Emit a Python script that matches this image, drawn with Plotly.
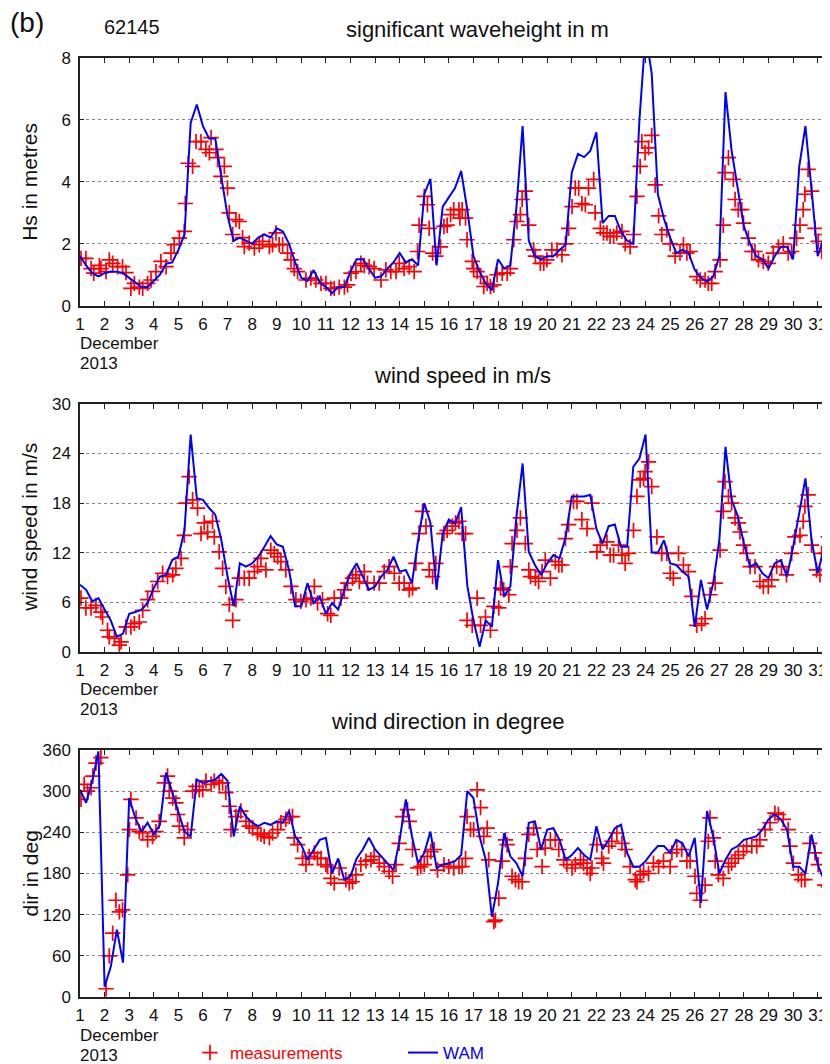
import numpy as np
import plotly.graph_objects as go

# ---------------- data ----------------
# WAM model: 6-hourly, 1 .. 31.5 December 2013
days = np.arange(1.0, 31.5 + 1e-9, 0.25)
day_ticks = list(range(1, 32))
day_labels = [str(d) for d in day_ticks]

hs_wam = [1.6, 1.3, 1.05, 0.95, 1.05, 1.1, 1.1, 1.05, 0.9, 0.75, 0.6, 0.6,
          0.8, 1.0, 1.35, 1.4, 1.8, 2.3, 5.9, 6.5, 5.8, 5.4, 5.4, 4.2,
          2.9, 2.1, 2.2, 2.1, 2.0, 2.2, 2.3, 2.2, 2.5, 2.4, 2.0, 1.4,
          0.9, 0.8, 1.15, 0.75, 0.6, 0.4, 0.6, 0.6, 1.1, 1.5, 1.5, 1.2,
          0.9, 0.95, 1.2, 1.4, 1.7, 1.4, 1.5, 1.3, 3.6, 4.1, 1.3, 3.2,
          3.5, 3.8, 4.35, 3.1, 1.6, 1.1, 0.72, 0.5, 1.5, 1.2, 1.3, 3.2,
          5.8, 2.1, 1.6, 1.5, 1.6, 1.6, 1.8, 1.97, 4.3, 4.9, 4.8, 5.0,
          5.6, 2.67, 2.9, 2.9, 2.4, 2.1, 2.0, 6.0, 8.8, 7.5, 3.6, 2.8,
          2.2, 1.7, 1.8, 1.7, 1.16, 0.9, 0.78, 0.94, 1.6, 6.9, 5.0, 3.75,
          2.56, 2.0, 1.6, 1.5, 1.2, 1.6, 1.9, 1.9, 1.5, 4.5, 5.8, 3.75,
          1.6, 2.2, 3.0]

ws_wam = [8.1, 7.5, 6.1, 6.5, 5.1, 3.8, 1.8, 2.2, 4.6, 4.8, 5.1, 5.9,
          7.7, 9.1, 9.3, 11.1, 11.5, 14.7, 26.3, 18.6, 18.4, 17.4, 16.6, 13.5,
          9.1, 5.5, 10.7, 10.3, 10.7, 11.5, 12.7, 14.0, 13.0, 12.7, 9.9, 5.5,
          5.5, 8.3, 5.9, 6.7, 4.6, 5.9, 5.1, 7.5, 9.5, 10.7, 9.1, 7.5,
          7.9, 9.1, 9.9, 11.5, 9.7, 9.9, 8.3, 13.5, 18.0, 15.6, 7.5, 14.3,
          16.0, 15.5, 17.5, 8.0, 3.8, 0.6, 3.8, 3.0, 11.1, 6.7, 7.9, 16.4,
          22.8, 12.1, 10.5, 9.3, 10.7, 11.7, 11.3, 13.9, 18.8, 18.8, 18.8, 19.0,
          14.9, 13.1, 15.2, 15.4, 12.7, 12.7, 22.4, 23.4, 26.3, 12.0, 12.0, 13.5,
          10.7, 10.5, 9.7, 9.1, 3.0, 8.7, 5.1, 8.3, 13.5, 24.8, 18.4, 16.4,
          13.1, 10.3, 10.7, 9.5, 8.9, 10.7, 11.1, 9.1, 12.7, 16.8, 21.0, 13.5,
          9.5, 12.5, 14.3]

wd_wam = [302, 283, 315, 358, 15, 44, 98, 50, 290, 261, 241, 254,
          237, 251, 327, 298, 271, 241, 234, 317, 312, 315, 317, 325,
          315, 234, 278, 263, 254, 249, 254, 251, 256, 254, 271, 234,
          222, 200, 215, 229, 232, 180, 202, 171, 176, 202, 215, 232,
          215, 205, 195, 185, 229, 288, 234, 195, 210, 241, 188, 193,
          195, 198, 207, 300, 290, 234, 200, 117, 166, 239, 205, 195,
          176, 254, 256, 215, 244, 246, 229, 200, 207, 217, 207, 200,
          249, 215, 229, 246, 251, 210, 190, 190, 198, 210, 220, 220,
          210, 229, 224, 205, 232, 137, 271, 234, 180, 200, 215, 220,
          229, 232, 234, 244, 259, 266, 259, 244, 190, 190, 180, 237,
          193, 171, 168]

hs_obs_t = [1.04, 1.24, 1.45, 1.56, 1.79, 1.85, 2.06, 2.19, 2.33, 2.53,
            2.73, 2.87, 3.07, 3.21, 3.41, 3.55, 3.75, 3.89, 4.09, 4.29,
            4.50, 4.70, 4.83, 5.04, 5.24, 5.28, 5.40, 5.58, 5.72, 5.92,
            6.12, 6.26, 6.33, 6.53, 6.60, 6.73, 6.87, 7.00, 7.07, 7.21,
            7.34, 7.48, 7.61, 7.68, 7.88, 8.09, 8.29, 8.43, 8.70, 8.83,
            8.97, 9.10, 9.24, 9.44, 9.58, 9.71, 9.85, 10.19, 10.39, 10.59,
            10.80, 11.00, 11.20, 11.34, 11.54, 11.75, 11.88, 12.02, 12.22, 12.42,
            12.56, 12.76, 12.96, 13.24, 13.44, 13.64, 13.85, 13.98, 14.18, 14.39,
            14.59, 14.73, 14.79, 15.00, 15.13, 15.20, 15.34, 15.47,
            15.66, 15.80, 15.93, 16.07, 16.20, 16.41, 16.45, 16.54, 16.68, 16.74,
            16.95, 17.01, 17.15, 17.29, 17.42, 17.56, 17.69, 17.83, 17.96, 18.17,
            18.37, 18.50, 18.64, 18.77, 18.91, 18.98, 19.11, 19.25, 19.45, 19.52,
            19.72, 19.86, 19.99, 20.19, 20.40, 20.60, 20.74, 20.87, 21.01, 21.14,
            21.28, 21.41, 21.55, 21.68, 21.89, 21.95, 22.16, 22.29, 22.43, 22.56,
            22.70, 22.83, 23.04, 23.17, 23.37, 23.51, 23.65, 23.78, 23.85, 23.98,
            24.12, 24.25, 24.39, 24.53, 24.66, 24.86, 25.00, 25.20, 25.40, 25.54,
            25.68, 25.81, 26.08, 26.22, 26.42, 26.55, 26.69, 26.83, 27.03, 27.16,
            27.23, 27.37, 27.57, 27.64, 27.77, 27.91, 27.98, 28.18, 28.32, 28.45,
            28.59, 28.79, 28.99, 29.19, 29.40, 29.60, 29.80, 29.94, 30.14, 30.28,
            30.41, 30.48, 30.61, 30.75, 30.89, 31.02, 31.16, 31.29, 31.49]
hs_obs = [1.53, 1.53, 1.2, 1.05, 1.3, 1.2, 1.1, 1.48, 1.37, 1.26,
          1.26, 1.07, 0.56, 0.72, 0.6, 0.56, 0.72, 0.83, 1.1, 1.43,
          1.26, 1.7, 1.97, 2.18, 2.4, 3.3, 4.6, 4.5, 5.3, 5.3,
          5.05, 4.94, 5.43, 5.05, 4.78, 4.18, 4.5, 3.8, 3.0, 2.3,
          2.78, 2.72, 2.2, 1.91, 2.02, 1.86, 1.97, 2.08, 1.91, 1.97,
          2.35, 1.97, 1.97, 1.7, 1.48, 1.2, 1.1, 0.83, 0.89, 0.83,
          0.72, 0.72, 0.56, 0.56, 0.6, 0.6, 0.67, 1.05, 1.1, 1.37,
          1.3, 1.26, 1.2, 0.83, 1.16, 1.1, 1.1, 1.37, 1.2, 1.26,
          1.1, 1.75, 2.6, 3.53, 3.26, 2.5, 1.7, 1.6,
          1.9, 2.56, 2.6, 2.94, 3.1, 3.1, 2.83, 3.1, 2.83, 2.13,
          1.43, 1.2, 1.1, 0.94, 0.62, 0.72, 0.62, 0.67, 1.0, 1.05,
          1.05, 1.2, 2.13, 2.72, 2.94, 3.43, 3.7, 2.6, 1.8, 1.6,
          1.37, 1.37, 1.48, 1.8, 1.8, 1.64, 2.0, 2.5, 3.2, 3.8,
          3.8, 3.3, 3.26, 3.8, 4.08, 3.0, 2.5, 2.35, 2.35, 2.24,
          2.24, 2.35, 2.4, 2.0, 1.9, 2.3, 3.53, 4.5, 5.3, 4.94,
          5.1, 5.5, 3.9, 2.9, 2.3, 2.45, 2.0, 1.6, 1.7, 1.97,
          1.7, 1.75, 0.94, 0.83, 0.83, 0.72, 0.72, 1.1, 1.48, 2.6,
          4.3, 4.78, 4.08, 3.43, 3.1, 3.1, 2.67, 2.18, 1.75, 1.75,
          1.48, 1.43, 1.37, 1.7, 1.9, 2.0, 1.7, 1.75, 2.18, 2.6,
          3.1, 3.6, 4.4, 3.7, 2.5, 2.08, 1.75, 2.3, 2.9]

ws_obs_t = [1.04, 1.24, 1.45, 1.65, 1.85, 1.92, 2.12, 2.19, 2.40, 2.60,
            2.67, 2.87, 3.07, 3.21, 3.41, 3.55, 3.75, 3.95, 4.16, 4.36,
            4.56, 4.77, 4.90, 5.11, 5.24, 5.31, 5.44, 5.58, 5.78, 5.92,
            6.05, 6.19, 6.39, 6.46, 6.66, 6.80, 6.93, 7.07, 7.21, 7.34,
            7.48, 7.68, 7.88, 8.09, 8.22, 8.36, 8.56, 8.76, 8.90, 9.04,
            9.17, 9.37, 9.58, 9.78, 9.98, 10.19, 10.39, 10.53, 10.66, 10.86,
            11.07, 11.20, 11.34, 11.61, 11.75, 11.88, 12.08, 12.22, 12.36, 12.56,
            12.69, 12.96, 13.17, 13.37, 13.57, 13.78, 13.98, 14.18, 14.39, 14.52,
            14.66, 14.79, 14.93, 15.07, 15.20, 15.34, 15.47,
            15.80, 15.93, 16.14, 16.27, 16.41, 16.54, 16.68, 16.74, 16.95, 17.15,
            17.29, 17.49, 17.69, 17.83, 18.03, 18.10, 18.23, 18.44, 18.50, 18.57,
            18.77, 18.91, 19.11, 19.25, 19.32, 19.52, 19.65, 19.79, 19.92, 20.13,
            20.33, 20.47, 20.60, 20.74, 20.87, 21.07, 21.21, 21.41, 21.62, 21.82,
            22.02, 22.16, 22.43, 22.56, 22.70, 22.90, 23.04, 23.17, 23.31, 23.51,
            23.65, 23.78, 23.92, 23.98, 24.12, 24.25, 24.46, 24.66, 24.86, 25.00,
            25.13, 25.34, 25.54, 25.74, 25.88, 26.08, 26.28, 26.42, 26.62, 26.83,
            27.03, 27.16, 27.23, 27.37, 27.50, 27.64, 27.77, 27.84, 27.98, 28.11,
            28.25, 28.45, 28.65, 28.79, 28.99, 29.13, 29.33, 29.53, 29.73, 29.94,
            30.07, 30.28, 30.41, 30.48, 30.61, 30.75, 30.95, 31.09, 31.16, 31.36,
            31.43]
ws_obs = [6.5, 5.3, 5.3, 5.6, 4.8, 4.2, 2.6, 1.8, 1.6, 0.8,
          1.2, 3.0, 3.0, 3.4, 3.6, 5.0, 6.3, 7.3, 8.5, 9.5,
          9.1, 9.3, 10.1, 11.3, 14.1, 18.0, 21.2, 18.4, 17.4, 14.3,
          15.6, 14.5, 15.8, 13.9, 12.1, 10.1, 7.9, 5.7, 3.8, 6.3,
          8.9, 8.9, 8.9, 9.7, 10.3, 11.3, 9.9, 12.3, 11.9, 11.5,
          10.9, 9.9, 7.9, 6.3, 6.1, 6.3, 6.5, 7.9, 5.9, 6.3,
          4.6, 4.4, 6.5, 6.5, 7.5, 8.3, 8.9, 9.3, 8.5, 9.7,
          8.3, 8.3, 8.3, 9.7, 10.3, 9.5, 8.3, 8.3, 7.5, 7.7,
          10.7, 14.3, 17.0, 15.2, 9.9, 9.1, 10.7,
          14.3, 14.7, 15.2, 15.6, 15.8, 14.3, 14.3, 3.8, 3.2, 6.5,
          3.2, 4.2, 2.6, 5.5, 5.3, 7.7, 7.5, 6.9, 10.3, 13.1,
          14.7, 16.2, 13.1, 9.9, 9.1, 8.9, 8.5, 9.7, 11.1, 8.9,
          10.9, 10.5, 10.5, 13.7, 15.4, 18.2, 18.2, 16.0, 14.9, 18.0,
          12.1, 12.9, 13.3, 11.7, 11.7, 12.9, 11.7, 10.7, 11.9, 14.7,
          18.8, 20.8, 21.0, 21.8, 23.0, 20.0, 13.9, 11.9, 11.9, 9.5,
          8.9, 11.9, 10.5, 9.7, 6.7, 3.2, 3.4, 4.0, 6.9, 8.3,
          12.3, 17.0, 20.6, 18.8, 18.0, 16.2, 15.6, 14.5, 12.9, 11.9,
          10.3, 10.3, 8.5, 7.9, 7.9, 8.7, 10.3, 10.3, 9.3, 11.9,
          13.9, 14.1, 15.8, 17.6, 19.0, 12.9, 9.9, 9.3, 11.9, 11.9,
          13.9]

wd_obs_t = [1.04, 1.17, 1.31, 1.45, 1.52, 1.65, 1.85, 2.06, 2.19, 2.33,
            2.46, 2.60, 2.73, 2.94, 3.01, 3.07, 3.28, 3.41, 3.55, 3.75,
            3.95, 4.09, 4.22, 4.43, 4.56, 4.63, 4.77, 4.90, 4.97, 5.04,
            5.24, 5.38, 5.58, 5.72, 5.85, 5.99, 6.12, 6.33, 6.46, 6.66,
            6.80, 6.93, 7.07, 7.14, 7.34, 7.54, 7.75, 7.88, 8.02, 8.22,
            8.36, 8.49, 8.70, 8.83, 9.04, 9.17, 9.37, 9.51, 9.64, 9.71,
            9.85, 10.05, 10.19, 10.32, 10.53, 10.66, 10.80, 11.00, 11.07, 11.20,
            11.34, 11.54, 11.81, 11.95, 12.08, 12.22, 12.42, 12.63, 12.83, 12.96,
            13.17, 13.37, 13.57, 13.71, 13.85, 13.98, 14.12, 14.32, 14.39, 14.52,
            14.73, 14.86, 15.00, 15.13, 15.27, 15.40, 15.54,
            15.80, 16.00, 16.20, 16.41, 16.54, 16.68, 16.74, 16.88, 17.01, 17.15,
            17.29, 17.42, 17.56, 17.62, 17.83, 17.89, 18.03, 18.17, 18.30, 18.37,
            18.57, 18.71, 18.84, 18.98, 19.11, 19.25, 19.45, 19.59, 19.79, 19.92,
            20.13, 20.33, 20.47, 20.67, 20.80, 21.01, 21.14, 21.35, 21.48, 21.62,
            21.75, 21.82, 22.02, 22.22, 22.29, 22.50, 22.63, 22.83, 23.04, 23.17,
            23.37, 23.58, 23.65, 23.78, 23.92, 24.12, 24.32, 24.53, 24.73, 25.00,
            25.07, 25.27, 25.47, 25.68, 25.81, 26.01, 26.08, 26.22, 26.42, 26.55,
            26.62, 26.76, 26.83, 26.96, 27.16, 27.37, 27.50, 27.64, 27.77, 27.98,
            28.11, 28.32, 28.52, 28.65, 28.86, 29.06, 29.26, 29.40, 29.60, 29.80,
            29.87, 30.01, 30.21, 30.34, 30.48, 30.68, 30.89, 31.02, 31.29, 31.43]
wd_obs = [288, 310, 300, 305, 322, 341, 349, 12, 60, 93,
          141, 124, 127, 178, 244, 288, 261, 241, 239, 229,
          234, 241, 256, 312, 322, 300, 290, 283, 266, 249,
          232, 244, 300, 307, 302, 302, 315, 310, 315, 312,
          312, 298, 278, 244, 263, 271, 256, 249, 246, 239,
          237, 234, 232, 239, 244, 254, 259, 263, 263, 232,
          222, 202, 193, 205, 210, 202, 202, 193, 190, 173,
          166, 188, 171, 166, 168, 178, 193, 198, 200, 205,
          195, 190, 183, 176, 193, 224, 263, 273, 256, 215,
          188, 190, 193, 205, 212, 215, 185,
          193, 190, 188, 190, 190, 202, 263, 244, 244, 302,
          276, 234, 246, 200, 110, 112, 144, 198, 229, 222,
          176, 171, 168, 168, 202, 237, 246, 215, 190, 217,
          229, 229, 215, 200, 193, 188, 193, 200, 195, 188,
          180, 188, 222, 202, 195, 220, 227, 239, 224, 215,
          190, 171, 168, 178, 183, 180, 195, 190, 198, 190,
          210, 215, 215, 198, 198, 176, 151, 141, 163, 227,
          261, 232, 198, 178, 173, 190, 195, 202, 207, 212,
          220, 220, 220, 229, 244, 254, 268, 266, 259, 244,
          220, 195, 178, 171, 171, 224, 210, 193, 163, 161]

panel_titles = ["significant waveheight in m", "wind speed in m/s", "wind direction in degree"]
y_titles = ["Hs in metres", "wind speed in m/s", "dir in deg"]
y_ticks = [[0, 2, 4, 6, 8], [0, 6, 12, 18, 24, 30], [0, 60, 120, 180, 240, 300, 360]]
y_ranges = [[0, 8], [0, 30], [0, 360]]

# ---------------- layout helpers ----------------
# The page body has an 8 px margin, so the figure is placed at (8, 8) in the window.
OFF = 8
W, H = 830 - OFF, 1064 - OFF
L = 80 - OFF
PW = W - L


def px_x(x):          # absolute window x -> paper x
    return (x - OFF - L) / PW


def px_y(y):          # absolute window y -> paper y
    return (H - (y - OFF)) / H


frames = [(58, 305.7), (404, 651.7), (750, 997)]  # top / bottom window pixel of each panel
title_x = [478, 462, 447]
FONT = "Arial, 'Liberation Sans', Helvetica, sans-serif"
AX = "#222222"

fig = go.Figure()
series = [(hs_obs_t, hs_obs, hs_wam), (ws_obs_t, ws_obs, ws_wam), (wd_obs_t, wd_obs, wd_wam)]
for i, (obs_t, obs, wam) in enumerate(series):
    sfx = "" if i == 0 else str(i + 1)
    fig.add_trace(go.Scatter(
        x=obs_t, y=obs, mode="markers", name="<span style='color:#ff0000'>measurements</span>",
        marker=dict(symbol="cross-thin", size=11, color="#ff0000",
                    line=dict(color="#ff0000", width=1.7)),
        xaxis="x" + sfx, yaxis="y" + sfx, showlegend=(i == 0), legendrank=1))
    fig.add_trace(go.Scatter(
        x=days, y=wam, mode="lines", name="<span style='color:#0000ff'>WAM</span>",
        line=dict(color="#0000ff", width=2),
        xaxis="x" + sfx, yaxis="y" + sfx, showlegend=(i == 0), legendrank=2))

layout = dict(
    width=W, height=H,
    margin=dict(l=L, r=0, t=0, b=0, autoexpand=False),
    paper_bgcolor="white", plot_bgcolor="white",
    font=dict(family=FONT, size=17, color="#111111"),
    legend=dict(orientation="h", x=px_x(190), y=px_y(1053), xanchor="left", yanchor="middle",
                font=dict(size=17), bgcolor="rgba(0,0,0,0)", entrywidth=168, traceorder="normal"),
    annotations=[], showlegend=True,
)

for i in range(3):
    sfx = "" if i == 0 else str(i + 1)
    top, bot = frames[i]
    layout["xaxis" + sfx] = dict(
        domain=[0, 1], anchor="y" + sfx, range=[1, 31.5], automargin=False,
        tickmode="array", tickvals=day_ticks, ticktext=day_labels,
        ticks="inside", ticklen=5, tickwidth=1, tickcolor=AX,
        showline=True, linecolor=AX, linewidth=1.5, mirror="ticks",
        showgrid=False, zeroline=False, tickfont=dict(size=17), ticklabelstandoff=2)
    layout["yaxis" + sfx] = dict(
        domain=[px_y(bot), px_y(top)], anchor="x" + sfx, range=y_ranges[i], automargin=False,
        tickmode="array", tickvals=y_ticks[i],
        ticks="inside", ticklen=4, tickwidth=1, tickcolor=AX,
        showline=True, linecolor=AX, linewidth=1.5, mirror=False,
        showgrid=True, gridcolor="#888888", griddash="dot", gridwidth=1,
        zeroline=False, tickfont=dict(size=17), ticklabelstandoff=4)
    ann = layout["annotations"]
    ann.append(dict(text=panel_titles[i], x=px_x(title_x[i]), y=px_y(top - 29), xref="paper", yref="paper",
                    xanchor="center", yanchor="middle", showarrow=False, font=dict(size=22)))
    ann.append(dict(text=y_titles[i], x=px_x(30), y=px_y((top + bot) / 2), xref="paper", yref="paper",
                    xanchor="center", yanchor="middle", textangle=-90, showarrow=False, font=dict(size=21)))
    ann.append(dict(text="December", x=px_x(78), y=px_y(bot + 38), xref="paper", yref="paper",
                    xanchor="left", yanchor="middle", showarrow=False, font=dict(size=17)))
    ann.append(dict(text="2013", x=px_x(78), y=px_y(bot + 58), xref="paper", yref="paper",
                    xanchor="left", yanchor="middle", showarrow=False, font=dict(size=17)))

layout["annotations"].append(dict(text="(b)", x=px_x(8), y=px_y(22), xref="paper", yref="paper",
                                  xanchor="left", yanchor="middle", showarrow=False, font=dict(size=28)))
layout["annotations"].append(dict(text="62145", x=px_x(102), y=px_y(27), xref="paper", yref="paper",
                                  xanchor="left", yanchor="middle", showarrow=False, font=dict(size=20)))

fig.update_layout(**layout)
fig.write_html("out.html")
